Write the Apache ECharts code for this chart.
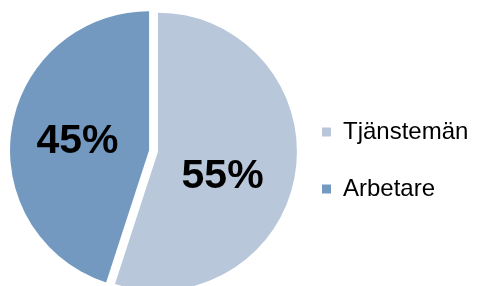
<!DOCTYPE html>
<html>
<head>
<meta charset="utf-8">
<script src="https://cdn.jsdelivr.net/npm/echarts@6/dist/echarts.min.js"></script>
<style>
  html, body { margin: 0; padding: 0; background: #fff; }
  #chart { width: 481px; height: 286px; }
</style>
</head>
<body>
<div id="chart"></div>
<script>
  // data
  let categories = ['Tjänstemän', 'Arbetare'];
  let shares = [55, 45];
  let colors = ['#b8c7da', '#7399c0'];

  let chart = echarts.init(document.getElementById('chart'));

  let pieData = [];
  for (let i = 0; i < categories.length; i++) {
    pieData.push({
      name: categories[i],
      value: shares[i],
      selected: true,
      itemStyle: { color: colors[i] },
      // nudge labels like in the original (55% sits lower)
      label: i === 0
        ? { formatter: '\n{c}%', lineHeight: 28, padding: [0, 14, 0, 0] }
        : { formatter: '\n{c}%', lineHeight: 6 }
    });
  }

  chart.setOption({
    animation: false,
    legend: {
      orient: 'vertical',
      left: 317,
      top: 115,
      itemWidth: 9,
      itemHeight: 9,
      itemGap: 33,
      icon: 'rect',
      selectedMode: false,
      data: categories,
      textStyle: {
        fontFamily: 'Liberation Sans, Arial, sans-serif',
        fontSize: 24,
        color: '#000',
        padding: [0, 0, 0, 7]
      }
    },
    series: [
      {
        type: 'pie',
        center: [153.5, 151],
        radius: 139,
        startAngle: 90,
        clockwise: true,
        selectedMode: 'multiple',
        selectedOffset: 4.5,
        emphasis: { disabled: true },
        labelLine: { show: false },
        label: {
          show: true,
          position: 'inside',
          formatter: '{c}%',
          color: '#000',
          fontFamily: 'Liberation Sans, Arial, sans-serif',
          fontWeight: 'bold',
          fontSize: 41
        },
        data: pieData
      }
    ]
  });
</script>
</body>
</html>
